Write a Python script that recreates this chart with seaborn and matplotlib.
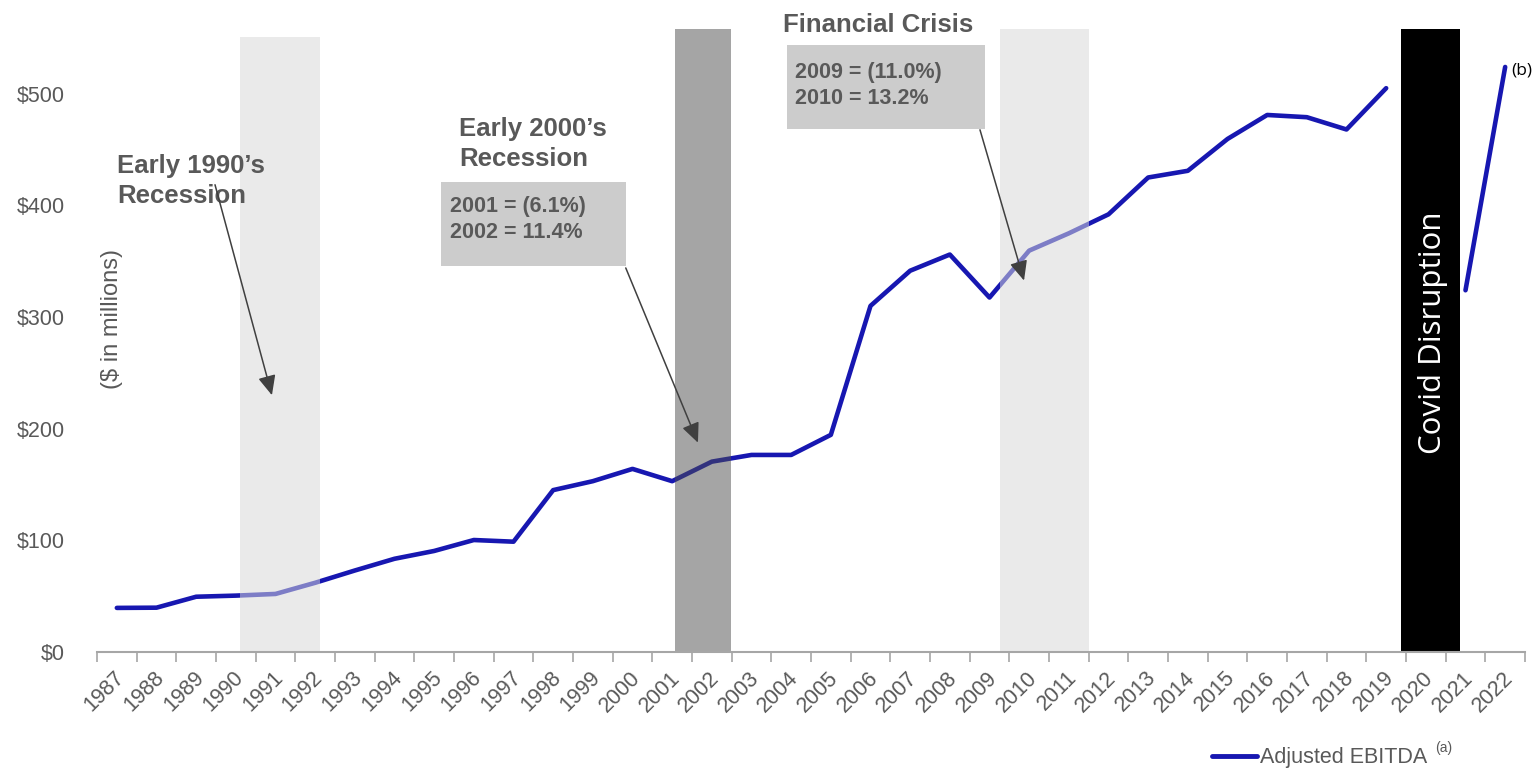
import numpy as np
import pandas as pd
import matplotlib
matplotlib.use("Agg")
import matplotlib.pyplot as plt
import matplotlib.patches as mpatches
import matplotlib.transforms as mtransforms
from matplotlib.lines import Line2D
import seaborn as sns

# ---------------- data ----------------
years = list(range(1987, 2023))
ebitda = [39.5, 39.7, 49.5, 50.5, 52, 62, 73, 83.5, 90.5, 100.3, 98.8, 145, 153,
          164, 153, 170.5, 176.5, 176.5, 194.5, 310, 341.5, 356, 317.5, 359.5,
          375, 392, 425, 431, 459.5, 481, 479, 468, 505, np.nan, 324, 524]
segment = [0] * 33 + [1] * 3
y_ticks = [0, 100, 200, 300, 400, 500]
y_tick_labels = ["$0", "$100", "$200", "$300", "$400", "$500"]
series_label = "Adjusted EBITDA"

df = pd.DataFrame({"idx": np.arange(len(years)), "year": years,
                   "ebitda": ebitda, "segment": segment}).dropna()

# ---------------- style ----------------
sns.set_theme(style="white")
plt.rcParams["font.family"] = ["Liberation Sans", "DejaVu Sans"]
GRAY = "#595959"
LINE = "#1717B1"

fig = plt.figure(figsize=(15.35, 7.71), dpi=100)
ax = fig.add_axes([97 / 1535, 1 - 652 / 771, 1428 / 1535, 623 / 771])

sns.lineplot(data=df, x="idx", y="ebitda", units="segment", estimator=None,
             color=LINE, lw=3.3, ax=ax, legend=False, zorder=3,
             solid_capstyle="round")

# recession / disruption bands (drawn over the line)
ax.axvspan(3.106, 5.122, ymin=0, ymax=0.987, color="#D9D9D9", alpha=0.53, lw=0, zorder=4)
ax.axvspan(14.07, 15.48, color="#4D4D4D", alpha=0.5, lw=0, zorder=4)
ax.axvspan(22.26, 24.5, color="#D9D9D9", alpha=0.53, lw=0, zorder=4)
ax.axvspan(32.37, 33.86, color="black", lw=0, zorder=5)

ax.set_xlim(-0.5, len(years) - 0.5)
ax.set_ylim(0, 558)

# axes styling
for s in ["top", "right", "left"]:
    ax.spines[s].set_visible(False)
ax.spines["bottom"].set_color("#A6A6A6")
ax.spines["bottom"].set_linewidth(1.5)
ax.spines["bottom"].set_zorder(6)

ax.set_xticks(np.arange(len(years)))
ax.set_xticklabels([str(y) for y in years], rotation=45, ha="right", va="top",
                   rotation_mode="anchor", fontsize=15.5, color=GRAY)
ax.set_xticks(np.arange(len(years) + 1) - 0.5, minor=True)
ax.tick_params(axis="x", which="major", length=0, pad=11)
ax.tick_params(axis="x", which="minor", length=7, width=1.2, color="#A6A6A6",
               direction="out", bottom=True)
shift = mtransforms.ScaledTranslation(-3 / 100, 0, fig.dpi_scale_trans)
for lbl in ax.get_xticklabels():
    lbl.set_transform(lbl.get_transform() + shift)
ax.set_yticks(y_ticks)
ax.set_yticklabels(y_tick_labels, fontsize=15.5, color=GRAY)
ax.tick_params(axis="y", length=0, pad=23)
ax.set_xlabel("")
ax.set_ylabel("")
ax.grid(False)

ax.text(0.0105, 0.535, "($ in millions)", transform=ax.transAxes, rotation=90,
        ha="center", va="center", fontsize=17, color=GRAY)

# annotations
title_kw = dict(fontsize=18.5, fontweight="bold", color=GRAY, va="top", ha="left",
                linespacing=1.32, zorder=8)
ax.text(0.0, 446, "Early 1990\u2019s\nRecession", **title_kw)
ax.text(8.63, 479, "Early 2000\u2019s\nRecession", **title_kw)
ax.text(16.79, 572, "Financial Crisis", **title_kw)

ax.add_patch(mpatches.Rectangle((8.17, 346), 4.66, 75, color="#CCCCCC", lw=0, zorder=7))
ax.add_patch(mpatches.Rectangle((16.89, 468), 5.0, 76, color="#CCCCCC", lw=0, zorder=7))
box_kw = dict(fontsize=15.5, fontweight="bold", color=GRAY, va="top", ha="left",
              linespacing=1.3, zorder=8)
ax.text(8.40, 408.5, "2001 = (6.1%)\n2002 = 11.4%", **box_kw)
ax.text(17.10, 528, "2009 = (11.0%)\n2010 = 13.2%", **box_kw)

arrow_kw = dict(arrowstyle="-|>,head_length=1.0,head_width=0.45", color="#404040",
                lw=1.1, shrinkA=0, shrinkB=0)
ax.annotate("", xy=(3.91, 230), xytext=(2.475, 418.5), arrowprops=arrow_kw, zorder=9)
ax.annotate("", xy=(14.65, 187.5), xytext=(12.83, 344), arrowprops=arrow_kw, zorder=9)
ax.annotate("", xy=(22.87, 332.7), xytext=(21.76, 467.7), arrowprops=arrow_kw, zorder=9)

ax.text(33.17, 286, "Covid Disruption", rotation=90, ha="center", va="center",
        color="white", fontsize=22.5, family=["Open Sans", "DejaVu Sans"], zorder=10)
ax.text(35.15, 521, "(b)", ha="left", va="center", fontsize=12.5, color="black",
        family=["Open Sans", "DejaVu Sans"], zorder=10)

# legend
handle = Line2D([0], [0], color=LINE, lw=3.5)
leg = fig.legend([handle], [series_label], loc="center left",
                 bbox_to_anchor=(1212 / 1535, 1 - 758 / 771), frameon=False,
                 fontsize=15.5, handlelength=2.1, handletextpad=0.12,
                 borderpad=0, borderaxespad=0)
for t in leg.get_texts():
    t.set_color(GRAY)
fig.text(1435 / 1535, 1 - 748 / 771, "(a)", fontsize=10, color=GRAY,
         ha="left", va="center")

fig.savefig("out.png", dpi=100)
